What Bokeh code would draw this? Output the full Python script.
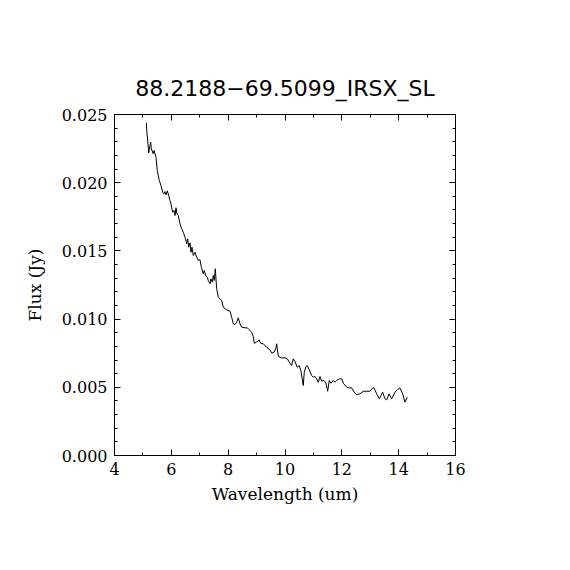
from bokeh.plotting import figure
from bokeh.models import (LinearAxis, SingleIntervalTicker, PrintfTickFormatter,
                          CustomJSTickFormatter, Title, Range1d)
from bokeh.embed import file_html
from bokeh.resources import INLINE

title_text = "88.2188\u221269.5099_IRSX_SL"
x_label = "Wavelength (um)"
y_label = "Flux (Jy)"

wave = [
    5.119, 5.144, 5.179, 5.203, 5.249, 5.274, 5.295, 5.365, 5.390, 5.425,
    5.460, 5.506, 5.576, 5.636, 5.696, 5.742, 5.777, 5.812, 5.858, 5.907,
    5.953, 5.988, 6.048, 6.094, 6.129, 6.164, 6.199, 6.245, 6.305, 6.365,
    6.421, 6.481, 6.540, 6.576, 6.611, 6.657, 6.692, 6.727, 6.773, 6.833,
    6.892, 6.949, 7.008, 7.068, 7.125, 7.160, 7.209, 7.265, 7.300, 7.360,
    7.395, 7.441, 7.476, 7.512, 7.547, 7.571, 7.596, 7.652, 7.712, 7.772,
    7.828, 7.948, 8.064, 8.124, 8.180, 8.240, 8.300, 8.356, 8.416, 8.476,
    8.592, 8.673, 8.743, 8.828, 8.884, 8.919, 9.003, 9.084, 9.144, 9.236,
    9.355, 9.471, 9.531, 9.612, 9.672, 9.707, 9.764, 9.883, 9.999, 10.080,
    10.175, 10.235, 10.291, 10.351, 10.432, 10.502, 10.562, 10.643, 10.678, 10.738,
    10.784, 10.854, 10.939, 10.995, 11.055, 11.115, 11.171, 11.231, 11.291, 11.372,
    11.442, 11.502, 11.558, 11.618, 11.699, 11.759, 11.818, 11.910, 11.994, 12.051,
    12.170, 12.262, 12.346, 12.462, 12.522, 12.638, 12.754, 12.874, 12.990, 13.085,
    13.131, 13.226, 13.318, 13.437, 13.518, 13.578, 13.659, 13.754, 13.870, 13.951,
    14.046, 14.141, 14.222, 14.303,
]
flux = [
    0.02440, 0.02358, 0.02285, 0.02219, 0.02273, 0.02297, 0.02248, 0.02212, 0.02236, 0.02212,
    0.02187, 0.02089, 0.02016, 0.01979, 0.01930, 0.01919, 0.01935, 0.01911, 0.01940, 0.01906,
    0.01869, 0.01845, 0.01784, 0.01796, 0.01759, 0.01816, 0.01772, 0.01759, 0.01699, 0.01662,
    0.01637, 0.01600, 0.01552, 0.01589, 0.01527, 0.01559, 0.01490, 0.01527, 0.01466, 0.01490,
    0.01454, 0.01430, 0.01435, 0.01369, 0.01332, 0.01356, 0.01320, 0.01307, 0.01283, 0.01259,
    0.01295, 0.01271, 0.01320, 0.01283, 0.01369, 0.01295, 0.01222, 0.01161, 0.01149, 0.01136,
    0.01087, 0.01068, 0.01058, 0.01014, 0.00965, 0.00960, 0.00977, 0.01009, 0.00965, 0.00941,
    0.00936, 0.00936, 0.00921, 0.00904, 0.00872, 0.00823, 0.00831, 0.00848, 0.00823, 0.00819,
    0.00794, 0.00775, 0.00750, 0.00757, 0.00782, 0.00819, 0.00726, 0.00716, 0.00716, 0.00709,
    0.00677, 0.00660, 0.00709, 0.00689, 0.00647, 0.00660, 0.00618, 0.00513, 0.00611, 0.00652,
    0.00660, 0.00628, 0.00586, 0.00574, 0.00579, 0.00562, 0.00537, 0.00579, 0.00545, 0.00550,
    0.00530, 0.00471, 0.00550, 0.00530, 0.00550, 0.00537, 0.00550, 0.00562, 0.00562, 0.00530,
    0.00501, 0.00496, 0.00496, 0.00457, 0.00447, 0.00452, 0.00471, 0.00471, 0.00471, 0.00496,
    0.00496, 0.00452, 0.00416, 0.00464, 0.00416, 0.00408, 0.00452, 0.00416, 0.00464, 0.00482,
    0.00496, 0.00452, 0.00391, 0.00427,
]

x_range = (4, 16)
y_range = (0.0, 0.025)

p = figure(frame_width=341, frame_height=341,
           x_range=Range1d(*x_range), y_range=Range1d(*y_range),
           output_backend="svg", toolbar_location=None, title=None,
           x_axis_location=None, y_axis_location=None,
           min_border_left=114, min_border_top=114,
           min_border_right=90, min_border_bottom=90,
           background_fill_color="white", border_fill_color="white")
p.grid.visible = False
p.outline_line_color = "black"
p.outline_line_width = 1

TICK_FONT = "DejaVu Serif"

def make_axis(kind, labels):
    ax = LinearAxis()
    if kind == "x":
        ax.ticker = SingleIntervalTicker(interval=2, num_minor_ticks=2)
        ax.formatter = PrintfTickFormatter(format="%d")
    else:
        ax.ticker = SingleIntervalTicker(interval=0.005, num_minor_ticks=5)
        ax.formatter = PrintfTickFormatter(format="%.3f")
    ax.major_tick_in = 6
    ax.major_tick_out = 0
    ax.minor_tick_in = 3
    ax.minor_tick_out = 0
    ax.axis_line_color = "black"
    ax.major_tick_line_color = "black"
    ax.minor_tick_line_color = "black"
    ax.major_label_text_font = TICK_FONT
    ax.major_label_text_color = "black"
    ax.axis_label_text_font = TICK_FONT
    ax.axis_label_text_font_style = "normal"
    ax.axis_label_text_color = "black"
    ax.major_label_text_font_size = "16px"
    ax.axis_label_text_font_size = "17px"
    if not labels:
        ax.formatter = CustomJSTickFormatter(code="return '';")
        ax.major_label_standoff = 0
    return ax

bottom = make_axis("x", True)
bottom.axis_label = x_label
bottom.major_label_standoff = 7
bottom.axis_label_standoff = 6
left = make_axis("y", True)
left.axis_label = y_label
left.major_label_standoff = 7
left.axis_label_standoff = 14
top = make_axis("x", False)
right = make_axis("y", False)

p.add_layout(bottom, "below")
p.add_layout(left, "left")
p.add_layout(top, "above")
p.add_layout(right, "right")

t = Title(text=title_text, align="center", text_font="DejaVu Sans",
          text_font_size="22px", text_font_style="normal", text_color="black",
          standoff=27)
p.add_layout(t, "above")

p.line(wave, flux, line_color="black", line_width=1)

open("out.html", "w").write(file_html(p, INLINE))
